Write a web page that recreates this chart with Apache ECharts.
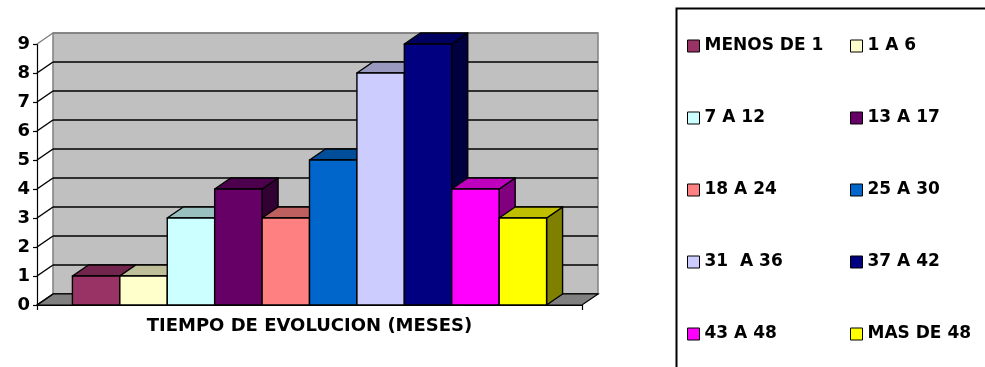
<!DOCTYPE html>
<html>
<head>
<meta charset="utf-8">
<script src="https://cdn.jsdelivr.net/npm/echarts@6/dist/echarts.min.js"></script>
<style>
  html, body { margin: 0; padding: 0; background: #ffffff; }
  #chart { width: 985px; height: 367px; }
</style>
</head>
<body>
<div id="chart"></div>
<script>
// Chart data
const categories = ['TIEMPO DE EVOLUCION (MESES)'];
const seriesNames = ['MENOS DE 1', '1 A 6', '7 A 12', '13 A 17', '18 A 24',
                     '25 A 30', '31  A 36', '37 A 42', '43 A 48', 'MAS DE 48'];
const seriesValues = [1, 1, 3, 4, 3, 5, 8, 9, 4, 3];
const yTickLabels = ['0', '1', '2', '3', '4', '5', '6', '7', '8', '9'];

// Styling
const seriesColors = ['#993366', '#FFFFCC', '#CCFFFF', '#660066', '#FF8080',
                      '#0066CC', '#CCCCFF', '#000080', '#FF00FF', '#FFFF00'];
const DX = 16;          // depth offset of the 3D boxes, horizontal
const DY = 11;          // depth offset of the 3D boxes, vertical
const BAR_SPAN = 0.87;  // share of the category band filled by the bars
const FONT = 'DejaVu Sans';

const yMin = Number(yTickLabels[0]);
const yMax = Number(yTickLabels[yTickLabels.length - 1]);

function shade(hex, f) {
  const n = parseInt(hex.slice(1), 16);
  const r = Math.round(((n >> 16) & 255) * f);
  const g = Math.round(((n >> 8) & 255) * f);
  const b = Math.round((n & 255) * f);
  return 'rgb(' + r + ',' + g + ',' + b + ')';
}

// Draws one 3D box: side face, top face, then front face.
function boxRenderer(index) {
  return function (params, api) {
    const top = api.coord([api.value(0), api.value(1)]);
    const base = api.coord([api.value(0), 0]);
    const band = api.size([1, 0])[0];
    const span = band * BAR_SPAN;
    const w = span / seriesNames.length;
    const x0 = top[0] - span / 2 + index * w;
    const x1 = x0 + w;
    const yT = top[1];
    const yB = base[1];
    const c = seriesColors[index];
    const edge = { stroke: '#000', lineWidth: 1.4, lineJoin: 'round' };
    return {
      type: 'group',
      children: [
        { type: 'polygon',
          shape: { points: [[x1, yB], [x1 + DX, yB - DY], [x1 + DX, yT - DY], [x1, yT]] },
          style: Object.assign({ fill: shade(c, 0.5) }, edge) },
        { type: 'polygon',
          shape: { points: [[x0, yT], [x1, yT], [x1 + DX, yT - DY], [x0 + DX, yT - DY]] },
          style: Object.assign({ fill: shade(c, 0.75) }, edge) },
        { type: 'rect',
          shape: { x: x0, y: yT, width: w, height: yB - yT },
          style: Object.assign({ fill: c }, edge) }
      ]
    };
  };
}

// Floor of the 3D plot area
function floorRenderer(params, api) {
  const cs = params.coordSys;
  const y = api.coord([0, yMin])[1];
  const L = cs.x, R = cs.x + cs.width;
  return {
    type: 'polygon',
    shape: { points: [[L, y], [R, y], [R + DX, y - DY], [L + DX, y - DY]] },
    style: { fill: '#808080', stroke: '#000', lineWidth: 1.2 }
  };
}

// Side-wall lines linking each front tick to the back wall
function sideLineRenderer(params, api) {
  const cs = params.coordSys;
  const y = api.coord([0, api.value(1)])[1];
  const isTop = api.value(1) === yMax;
  return {
    type: 'line',
    shape: { x1: cs.x, y1: y, x2: cs.x + DX, y2: y - DY },
    style: { stroke: isTop ? '#808080' : '#000', lineWidth: 1.5 }
  };
}

const backLineColors = yTickLabels.map((t, i) => (i === yTickLabels.length - 1 ? '#808080' : '#000'));

const series = [
  { type: 'custom', name: 'floor', xAxisIndex: 0, yAxisIndex: 0, z: 1,
    renderItem: floorRenderer, data: [[0, yMin]], silent: true },
  { type: 'custom', name: 'sidewall', xAxisIndex: 0, yAxisIndex: 0, z: 2,
    renderItem: sideLineRenderer, data: yTickLabels.map(t => [0, Number(t)]), silent: true }
];
seriesNames.forEach((name, i) => {
  series.push({
    type: 'custom',
    name: name,
    xAxisIndex: 0,
    yAxisIndex: 0,
    z: 3 + i,
    itemStyle: { color: seriesColors[i] },
    encode: { x: 0, y: 1 },
    renderItem: boxRenderer(i),
    data: [[0, seriesValues[i]]]
  });
});

const legendText = { fontFamily: FONT, fontWeight: 'bold', fontSize: 17, color: '#000', lineHeight: 20 };
const legendBase = {
  orient: 'vertical',
  top: 36,
  padding: 0,
  itemGap: 52,
  itemWidth: 12,
  itemHeight: 12,
  icon: 'rect',
  selectedMode: false,
  itemStyle: { borderColor: '#000', borderWidth: 1 },
  textStyle: legendText
};

const option = {
  animation: false,
  backgroundColor: '#ffffff',
  grid: [
    { left: 37, right: 403, top: 44, bottom: 62 },
    { left: 53, right: 387, top: 33, bottom: 73, show: true,
      backgroundColor: '#c0c0c0', borderColor: '#808080', borderWidth: 1.5 }
  ],
  xAxis: [
    { type: 'category', gridIndex: 0, data: categories, boundaryGap: true,
      axisLine: { lineStyle: { color: '#000', width: 1.2 } },
      axisTick: { show: true, length: 5, lineStyle: { color: '#000', width: 1.2 } },
      axisLabel: { margin: 12, fontFamily: FONT, fontWeight: 'bold', fontSize: 18, color: '#000' } },
    { type: 'category', gridIndex: 1, data: categories, show: false }
  ],
  yAxis: [
    { type: 'value', gridIndex: 0, min: yMin, max: yMax, interval: 1,
      axisLine: { show: true, lineStyle: { color: '#000', width: 1.2 } },
      axisTick: { show: true, length: 4, lineStyle: { color: '#000', width: 1.2 } },
      splitLine: { show: false },
      axisLabel: { margin: 7, fontFamily: FONT, fontWeight: 'bold', fontSize: 18, color: '#000',
                   formatter: v => yTickLabels[v - yMin] } },
    { type: 'value', gridIndex: 1, min: yMin, max: yMax, interval: 1,
      axisLine: { show: false }, axisTick: { show: false }, axisLabel: { show: false },
      splitLine: { show: true, lineStyle: { color: backLineColors, width: 1.5 } } }
  ],
  legend: [
    Object.assign({}, legendBase, { left: 687, data: seriesNames.filter((n, i) => i % 2 === 0) }),
    Object.assign({}, legendBase, { left: 850, data: seriesNames.filter((n, i) => i % 2 === 1) })
  ],
  graphic: [
    { type: 'rect', left: 674, top: 6, z: 0, silent: true,
      shape: { width: 330, height: 380 },
      style: { fill: 'none', stroke: '#000', lineWidth: 2 } }
  ],
  series: series
};

const chart = echarts.init(document.getElementById('chart'), null, { renderer: 'canvas' });
chart.setOption(option);
</script>
</body>
</html>
